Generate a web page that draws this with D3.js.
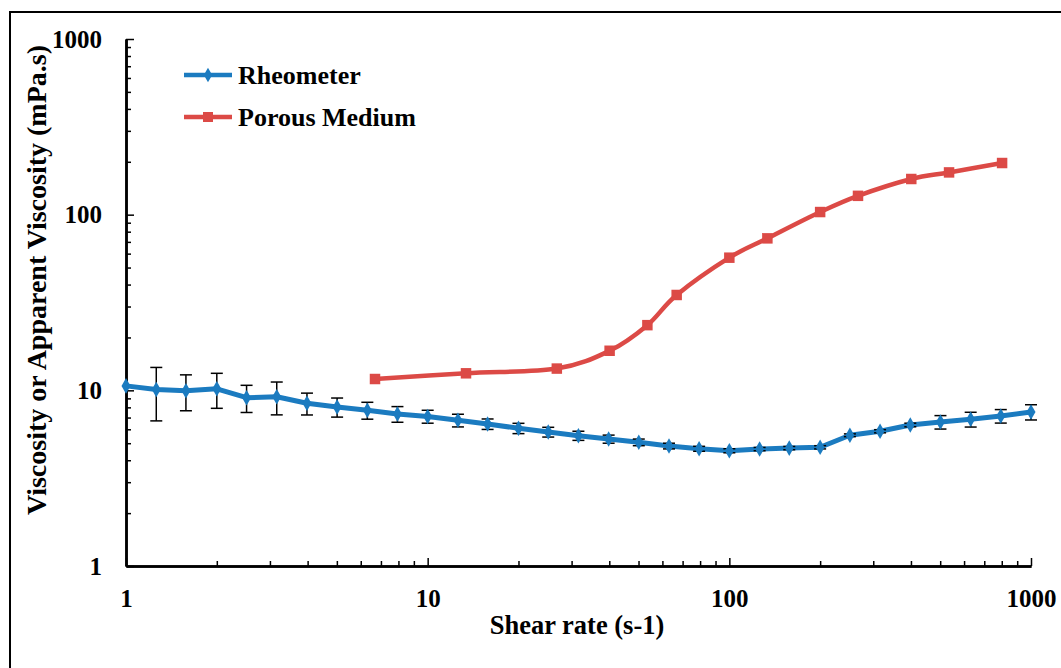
<!DOCTYPE html>
<html>
<head>
<meta charset="utf-8">
<script src="https://cdn.jsdelivr.net/npm/d3@7"></script>
<style>
  html, body { margin: 0; padding: 0; background: #fff; }
  svg { display: block; }
  text { font-family: "Liberation Serif", "Times New Roman", serif; font-weight: bold; fill: #000; }
</style>
</head>
<body>
<svg id="chart" width="1061" height="668"></svg>
<script>
// Rheometer sweep: shear rate (1/s), viscosity (mPa.s), standard deviation
const rheoShear = [1, 1.26, 1.58, 2, 2.51, 3.16, 3.98, 5.01, 6.31, 7.94,
                   10, 12.6, 15.8, 20, 25.1, 31.6, 39.8, 50.1, 63.1, 79.4,
                   100, 126, 158, 200, 251, 316, 398, 501, 631, 794, 1000];
const rheoVisc = [10.6, 10.1, 9.95, 10.2, 9.08, 9.2, 8.44, 8.04, 7.7, 7.33,
                  7.1, 6.75, 6.43, 6.08, 5.79, 5.52, 5.28, 5.06, 4.82, 4.65,
                  4.53, 4.63, 4.69, 4.74, 5.55, 5.85, 6.35, 6.6, 6.84, 7.14, 7.53];
const rheoErr = [0, 3.4, 2.3, 2.3, 1.6, 1.95, 1.2, 1.0, 0.85, 0.75,
                 0.6, 0.56, 0.44, 0.41, 0.37, 0.33, 0.28, 0.22, 0.18, 0.15,
                 0.12, 0.1, 0.1, 0.1, 0.1, 0.12, 0.15, 0.58, 0.66, 0.63, 0.75];

// Core flooding: apparent shear rate (1/s), apparent viscosity (mPa.s)
const poroShear = [6.69, 13.4, 26.8, 40.1, 53.5, 66.9, 100, 133.7, 200, 267, 401, 535, 802];
const poroVisc = [11.6, 12.5, 13.3, 16.8, 23.5, 34.9, 56.9, 73.3, 103.5, 128, 159.6, 174, 196.8];

const seriesNames = ["Rheometer", "Porous Medium"];
const seriesColors = ["#1b7bc0", "#dc4a46"];
const majorTicks = [1, 10, 100, 1000];
const xTitle = "Shear rate (s-1)";
const yTitle = "Viscosity or Apparent Viscosity (mPa.s)";

const svg = d3.select("#chart");

// outer frame
svg.append("rect")
  .attr("x", 10).attr("y", 12)
  .attr("width", 1070).attr("height", 680)
  .attr("fill", "none").attr("stroke", "#000").attr("stroke-width", 2);

const x = d3.scaleLog().domain([1, 1000]).range([126, 1031]);
const y = d3.scaleLog().domain([1, 1000]).range([566, 39]);

const minorTicks = [];
[1, 10, 100].forEach(d => { for (let k = 2; k <= 9; k++) minorTicks.push(d * k); });

// x axis: minor ticks, then major ticks with labels
const xMinor = svg.append("g").attr("transform", "translate(0,566)")
  .call(d3.axisBottom(x).tickValues(minorTicks).tickSizeInner(-5).tickSizeOuter(0).tickFormat(""));
const xMajor = svg.append("g").attr("transform", "translate(0,566)")
  .call(d3.axisBottom(x).tickValues(majorTicks).tickSizeInner(-8).tickSizeOuter(0)
    .tickPadding(23).tickFormat(d3.format("d")));

const yMinor = svg.append("g").attr("transform", "translate(126,0)")
  .call(d3.axisLeft(y).tickValues(minorTicks).tickSizeInner(-5).tickSizeOuter(0).tickFormat(""));
const yMajor = svg.append("g").attr("transform", "translate(126,0)")
  .call(d3.axisLeft(y).tickValues(majorTicks).tickSizeInner(-8).tickSizeOuter(0)
    .tickPadding(24).tickFormat(d3.format("d")));

[xMinor, xMajor, yMinor, yMajor].forEach(g => {
  g.select(".domain").attr("stroke", "#000").attr("stroke-width", 2.5);
  g.selectAll(".tick line").attr("stroke", "#000").attr("stroke-width", 1.5);
  g.selectAll(".tick text")
    .style("font-family", "'Liberation Serif', 'Times New Roman', serif")
    .style("font-weight", "bold").style("font-size", "25px").attr("fill", "#000");
});
xMajor.selectAll(".tick text").attr("dy", "0.71em");

// axis titles
svg.append("text")
  .attr("x", 577).attr("y", 634)
  .attr("text-anchor", "middle")
  .style("font-size", "26.5px")
  .text(xTitle);

svg.append("text")
  .attr("transform", "translate(46,280) rotate(-90)")
  .attr("text-anchor", "middle")
  .style("font-size", "28px")
  .text(yTitle);

// data rows
const rheo = rheoShear.map((s, i) => ({ s, v: rheoVisc[i], e: rheoErr[i] }));
const poro = poroShear.map((s, i) => ({ s, v: poroVisc[i] }));

// Porous Medium series (smoothed line, square markers)
svg.append("path")
  .datum(poro)
  .attr("fill", "none")
  .attr("stroke", seriesColors[1])
  .attr("stroke-width", 4.5)
  .attr("stroke-linejoin", "round")
  .attr("d", d3.line().x(d => x(d.s)).y(d => y(d.v)).curve(d3.curveCardinal.tension(0)));

svg.append("g").selectAll("path")
  .data(poro).join("path")
  .attr("transform", d => `translate(${x(d.s)},${y(d.v)})`)
  .attr("d", d3.symbol(d3.symbolSquare, 110))
  .attr("fill", seriesColors[1]);

// Rheometer series (straight segments, diamond markers, error bars)
svg.append("path")
  .datum(rheo)
  .attr("fill", "none")
  .attr("stroke", seriesColors[0])
  .attr("stroke-width", 5)
  .attr("stroke-linejoin", "round")
  .attr("d", d3.line().x(d => x(d.s)).y(d => y(d.v)));

const eb = svg.append("g").attr("stroke", "#000").attr("stroke-width", 1.5);
rheo.filter(d => d.e > 0).forEach(d => {
  const cx = x(d.s), y1 = y(d.v + d.e), y2 = y(d.v - d.e);
  eb.append("line").attr("x1", cx).attr("x2", cx).attr("y1", y1).attr("y2", y2);
  eb.append("line").attr("x1", cx - 6).attr("x2", cx + 6).attr("y1", y1).attr("y2", y1);
  eb.append("line").attr("x1", cx - 6).attr("x2", cx + 6).attr("y1", y2).attr("y2", y2);
});

svg.append("g").selectAll("path")
  .data(rheo).join("path")
  .attr("transform", d => `translate(${x(d.s)},${y(d.v)})`)
  .attr("d", d3.symbol(d3.symbolDiamond, 70))
  .attr("fill", seriesColors[0]);

// legend
const legend = svg.append("g");
const legendShapes = [d3.symbolDiamond, d3.symbolSquare];
const legendSizes = [60, 100];
seriesNames.forEach((name, i) => {
  const ly = 75 + i * 42;
  legend.append("line")
    .attr("x1", 184).attr("x2", 232).attr("y1", ly).attr("y2", ly)
    .attr("stroke", seriesColors[i]).attr("stroke-width", 4.5);
  legend.append("path")
    .attr("transform", `translate(208,${ly})`)
    .attr("d", d3.symbol(legendShapes[i], legendSizes[i]))
    .attr("fill", seriesColors[i]);
  legend.append("text")
    .attr("x", 238).attr("y", ly)
    .attr("dy", "0.33em")
    .style("font-size", "26px")
    .text(name);
});
</script>
</body>
</html>
